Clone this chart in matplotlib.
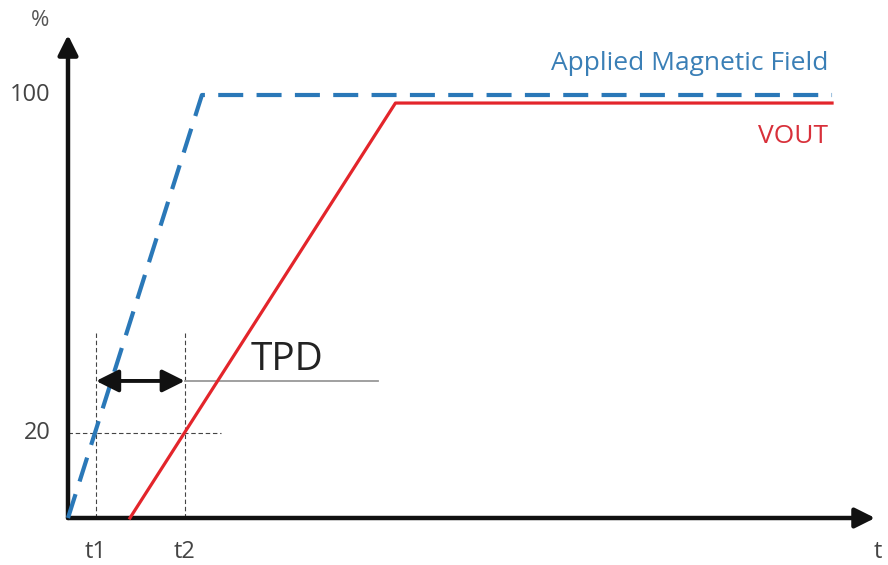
import matplotlib
matplotlib.use("Agg")
from matplotlib import pyplot as plt

plt.rcParams['font.family'] = ['Open Sans', 'DejaVu Sans']

###     data (schematic units: time arbitrary, level in %)     ###
field_t = [0, 4.54, 25.9]
field_level = [0, 100, 100]
vout_t = [2.1, 11.1, 25.9]
vout_level = [0, 98.1, 98.1]

t1 = 0.95
t2 = 3.96
threshold = 20
y_ticks = [20, 100]
y_tick_labels = ["20", "100"]
x_tick_pos = [t1, t2]
x_tick_labels = ["t1", "t2"]

blue = "#2a78b8"
red = "#e3252b"

fig = plt.figure(figsize=(8.88, 5.65), dpi=100)
ax = fig.add_axes([0, 0, 1, 1])
ax.set_xlim(-2.305, 27.797)
ax.set_ylim(-11.11, 122.46)
ax.axis("off")

###     axes drawn as arrows     ###
ax.annotate("", xy=(0, 114.2), xytext=(0, 0),
            arrowprops=dict(arrowstyle="-|>", color="#111", lw=3.2,
                            mutation_scale=30, shrinkA=0, shrinkB=0))
ax.annotate("", xy=(27.36, 0), xytext=(0, 0),
            arrowprops=dict(arrowstyle="-|>", color="#111", lw=3.2,
                            mutation_scale=30, shrinkA=0, shrinkB=0))

###     the two signals     ###
ax.plot(field_t, field_level, color=blue, lw=3, dashes=(6, 3.2), zorder=3)
ax.plot(vout_t, vout_level, color=red, lw=2.3, zorder=3)

###     helper lines for t1, t2 and the 20 % level     ###
for t in x_tick_pos:
    ax.plot([t, t], [0, 44.3], color="#444", lw=0.8, ls=(0, (4, 2.5)), zorder=1)
ax.plot([0, 5.2], [threshold, threshold], color="#444", lw=0.8,
        ls=(0, (4, 2.5)), zorder=1)

###     TPD arrow     ###
tpd_y = 32.4
ax.plot([t2, 10.5], [tpd_y, tpd_y], color="#999", lw=1.3, zorder=2)
ax.annotate("", xy=(t2, tpd_y), xytext=(t1, tpd_y),
            arrowprops=dict(arrowstyle="<|-|>", color="#111", lw=2.8,
                            mutation_scale=34, shrinkA=0, shrinkB=0), zorder=4)
ax.text(6.2, 35, "TPD", fontsize=28, color="#222", ha="left", va="baseline")

###     labels     ###
ax.text(25.76, 107.4, "Applied Magnetic Field", fontsize=19, color="#3a7fb6",
        ha="right", va="center")
ax.text(25.76, 90.1, "VOUT", fontsize=19, color="#d8303a",
        ha="right", va="center")

for y, lab in zip(y_ticks, y_tick_labels):
    ax.text(-0.6, y, lab, fontsize=17, color="#444", ha="right", va="center")
for x, lab in zip(x_tick_pos, x_tick_labels):
    ax.text(x, -8, lab, fontsize=17, color="#444", ha="center", va="center")
ax.text(27.45, -8, "t", fontsize=17, color="#444", ha="center", va="center")
ax.text(-0.95, 117.6, "%", fontsize=16, color="#555", ha="center", va="center")

fig.savefig("out.png", dpi=100)
